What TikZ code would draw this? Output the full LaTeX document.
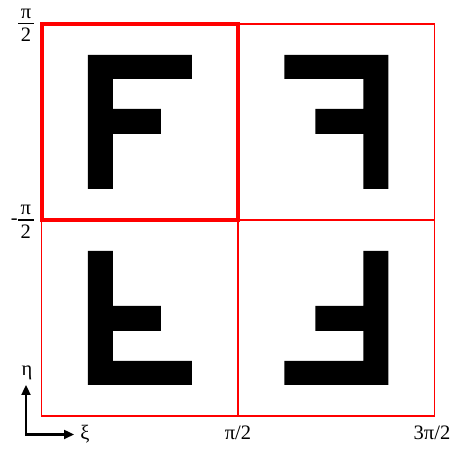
\documentclass[tikz,border=0pt]{standalone}
\usepackage{fontspec}
\setmainfont{Liberation Serif}
\usetikzlibrary{arrows.meta}
\definecolor{gridred}{HTML}{FF0000}

% pi over 2, baseline on the "2"
\newcommand{\halfpi}{\vbox{\hbox to 16pt{\hss π\hss}\kern4pt\hrule height 1.5pt\kern4pt\hbox to 16pt{\hss 2\hss}}}

\tikzset{
    letterF/.pic={
        \fill[black] (-52,67) -- (52,67) -- (52,43) -- (-27,43) -- (-27,13) -- (21,13)
            -- (21,-12) -- (-27,-12) -- (-27,-67) -- (-52,-67) -- cycle;
    }
}

\begin{document}
\begin{tikzpicture}[
    x=1pt, y=1pt,
    cellline/.style={
        draw=gridred, line width=1.2pt
    },
    activecell/.style={
        draw=gridred, line width=4pt
    },
    ticklabel/.style={
        font=\fontsize{20.5pt}{24pt}\selectfont, inner sep=0pt, text=black
    },
    axisarrow/.style={
        {Triangle[length=10pt, width=9pt]}-{Triangle[length=10pt, width=9pt]},
        line width=2.3pt, draw=black
    }
]
\useasboundingbox (0,0) rectangle (453,449);

\def\xa{41.5}
\def\xb{238}
\def\xc{434.5}
\def\ya{33}
\def\yb{229}
\def\yc{425}

% ==================== GRID ====================
\draw[cellline] (\xa,\ya) rectangle (\xc,\yc);
\draw[cellline] (\xb,\ya) -- (\xb,\yc);
\draw[cellline] (\xa,\yb) -- (\xc,\yb);
\draw[activecell] (\xa,\yb) rectangle (\xb,\yc);

% ==================== LETTERS ====================
\pic at (139.75,327) {letterF};
\pic[xscale=-1] at (336.25,327) {letterF};
\pic[yscale=-1] at (139.75,131) {letterF};
\pic[scale=-1] at (336.25,131) {letterF};

% ==================== TICK LABELS ====================
\node[ticklabel, anchor=base] (ytop) at (26,407.4) {\halfpi};
\node[ticklabel, anchor=base east] (ymid) at (34,210.9) {\raisebox{14pt}{-}\halfpi};
\node[ticklabel, anchor=base] (xmid) at (238,9.7) {π/2};
\node[ticklabel, anchor=base] (xend) at (432,9.7) {3π/2};

% ==================== AXES ====================
\coordinate (origin) at (26,14.5);
\coordinate (etatip) at (26,64);
\coordinate (xitip) at (74,14.5);
\draw[axisarrow] (etatip) -- (origin) -- (xitip);
\node[ticklabel, anchor=base] (eta) at (27,73) {η};
\node[ticklabel, anchor=base] (xi) at (85,9) {ξ};

\end{tikzpicture}
\end{document}
